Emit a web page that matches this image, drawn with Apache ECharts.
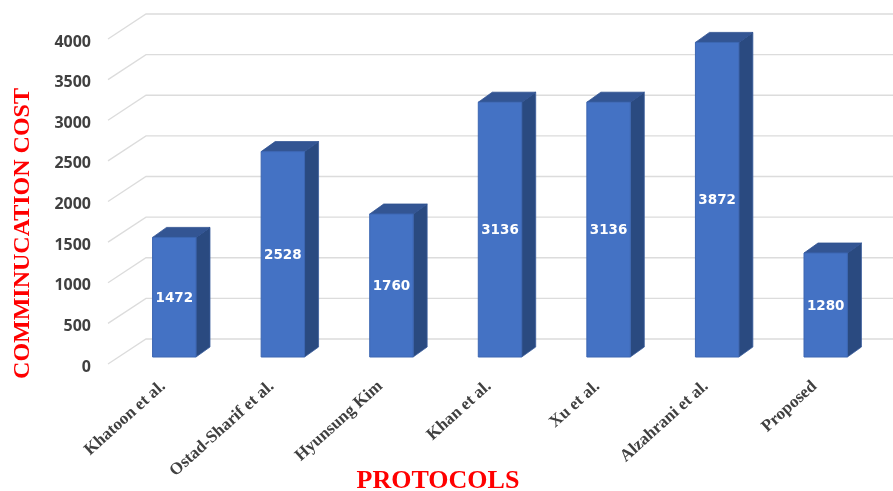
<!DOCTYPE html>
<html>
<head>
<meta charset="utf-8">
<style>html,body{margin:0;padding:0;background:#fff}#chart{width:893px;height:491px}</style>
<script src="https://cdn.jsdelivr.net/npm/echarts@6/dist/echarts.min.js"></script>
</head>
<body>
<div id="chart"></div>
<script>
// Communication cost per protocol, drawn as pseudo-3D columns.
const protocols = ['Khatoon et al.', 'Ostad-Sharif et al.', 'Hyunsung Kim', 'Khan et al.', 'Xu et al.', 'Alzahrani et al.', 'Proposed'];
const costs = [1472, 2528, 1760, 3136, 3136, 3872, 1280];
const yTicks = [0, 500, 1000, 1500, 2000, 2500, 3000, 3500, 4000];

// Column extrusion and floor geometry, in pixels.
const DEPTH_X = 14, DEPTH_Y = 10;
const FLOOR_FRONT_X = 108, FLOOR_FRONT_DY = 7, FLOOR_BACK_X = 146, FLOOR_BACK_DY = -18;

const chart = echarts.init(document.getElementById('chart'), null, { renderer: 'canvas' });

function renderGridLine(params, api) {
  const y = api.coord([0, api.value(1)])[1];
  return {
    type: 'polyline',
    silent: true,
    shape: { points: [
      [FLOOR_FRONT_X, y + FLOOR_FRONT_DY],
      [FLOOR_BACK_X, y + FLOOR_BACK_DY],
      [api.getWidth(), y + FLOOR_BACK_DY]
    ] },
    style: { fill: null, stroke: '#dcdcdc', lineWidth: 1.3 }
  };
}

function renderColumn(params, api) {
  const idx = api.value(0), val = api.value(1);
  const top = api.coord([idx, val]);
  const base = api.coord([idx, 0]);
  const w = api.size([1, 0])[0] * 0.4;
  const l = top[0] - w / 2, r = top[0] + w / 2;
  const t = top[1], b = base[1];
  return {
    type: 'group',
    children: [
      { type: 'polygon',
        shape: { points: [[r, t], [r + DEPTH_X, t - DEPTH_Y], [r + DEPTH_X, b - DEPTH_Y], [r, b]] },
        style: { fill: '#2a4a80', stroke: '#3a5d9c', lineWidth: 0.8 } },
      { type: 'polygon',
        shape: { points: [[l, t], [l + DEPTH_X, t - DEPTH_Y], [r + DEPTH_X, t - DEPTH_Y], [r, t]] },
        style: { fill: '#335593', stroke: '#2f5090', lineWidth: 0.8 } },
      { type: 'rect',
        shape: { x: l, y: t, width: r - l, height: b - t },
        style: { fill: '#4472c4', stroke: '#3c66b2', lineWidth: 1 } },
      { type: 'text',
        style: {
          x: top[0], y: (t + b) / 2 + 1,
          text: String(val),
          fill: '#ffffff',
          font: 'bold 13.5px "DejaVu Sans"',
          align: 'center', verticalAlign: 'middle'
        } }
    ]
  };
}

chart.setOption({
  animation: false,
  backgroundColor: '#ffffff',
  grid: { left: 120, right: 13, top: 32, bottom: 134, outerBoundsMode: 'none' },
  xAxis: {
    type: 'category',
    data: protocols,
    axisLine: { show: false },
    axisTick: { show: false },
    axisLabel: {
      interval: 0,
      rotate: 42,
      margin: 17,
      color: '#404040',
      fontFamily: 'Liberation Serif',
      fontWeight: 'bold',
      fontSize: 17,
      padding: [0, 15, 0, 0]
    },
    name: 'PROTOCOLS',
    nameLocation: 'middle',
    nameMoveOverlap: false,
    nameGap: 111,
    nameTextStyle: {
      color: '#ff0000',
      fontFamily: 'Liberation Serif',
      fontWeight: 'bold',
      fontSize: 26,
      padding: [0, 124, 0, 0]
    }
  },
  yAxis: {
    type: 'value',
    min: 0,
    max: 4000,
    interval: 500,
    splitLine: { show: false },
    axisLine: { show: false },
    axisTick: { show: false },
    axisLabel: {
      margin: 29,
      color: '#404040',
      fontFamily: 'Open Sans',
      fontWeight: 'bold',
      fontSize: 16,
      verticalAlign: 'top',
      padding: [2, 0, 0, 0],
      formatter: v => String(v)
    },
    name: 'COMMINUCATION COST',
    nameLocation: 'middle',
    nameMoveOverlap: false,
    nameGap: 85,
    nameRotate: 90,
    nameTextStyle: {
      color: '#ff0000',
      fontFamily: 'Liberation Serif',
      fontWeight: 'bold',
      fontSize: 24,
      padding: [0, 78, 0, 0]
    }
  },
  series: [
    {
      type: 'custom',
      coordinateSystem: 'cartesian2d',
      clip: false,
      silent: true,
      z: 1,
      renderItem: renderGridLine,
      data: yTicks.map(t => [0, t])
    },
    {
      type: 'custom',
      coordinateSystem: 'cartesian2d',
      clip: false,
      z: 2,
      renderItem: renderColumn,
      data: costs.map((c, i) => [i, c])
    }
  ]
});
</script>
</body>
</html>
